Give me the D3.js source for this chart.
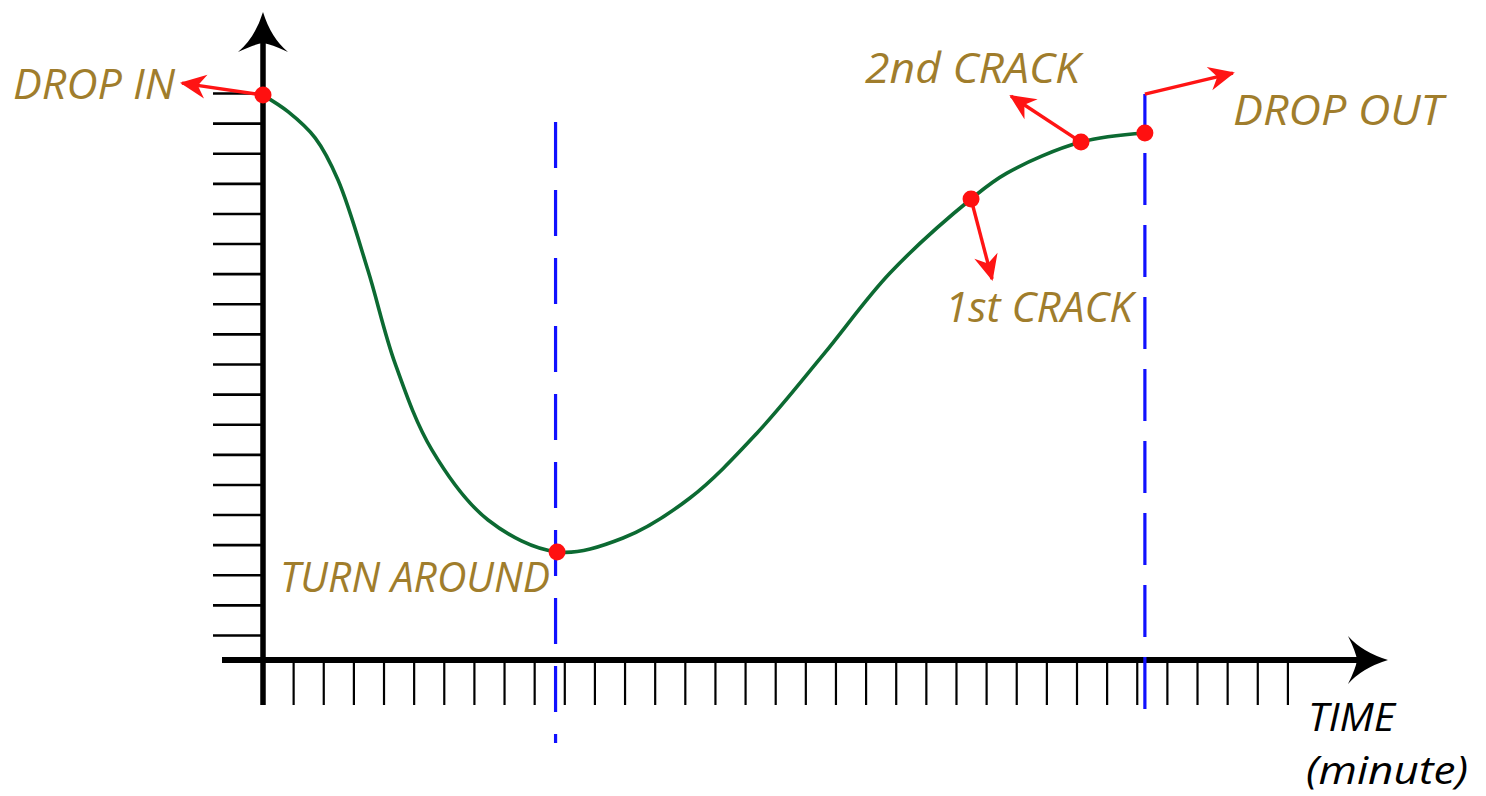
<!DOCTYPE html>
<html>
<head>
<meta charset="utf-8">
<script src="https://cdn.jsdelivr.net/npm/d3@7"></script>
<style>
html,body{margin:0;padding:0;background:#fff;}
svg{display:block;}
text{font-family:"Open Sans","DejaVu Sans",sans-serif;font-style:italic;}
</style>
</head>
<body>
<svg id="chart" width="1486" height="796"></svg>
<script>
// ---- data (time in minutes, temperature in tick units) ----
const timeMin = [0, 0.415, 0.865, 1.245, 1.74, 2.19, 2.805, 3.735, 4.88,
  5.975, 7.085, 8.2, 9.295, 10.405, 11.75, 12.345, 13.575, 14.635];
const temp = [18.93, 18.38, 17.51, 16.11, 13.12, 10.03, 7.14, 4.82, 3.76,
  4.22, 5.55, 7.71, 10.30, 13.02, 15.48, 16.34, 17.37, 17.67];
const eventNames = ["DROP IN", "TURN AROUND", "1st CRACK", "2nd CRACK", "DROP OUT"];
const eventTime = [0, 4.88, 11.75, 13.575, 14.635];
const eventTemp = [18.93, 3.76, 15.48, 17.37, 17.67];
const xTickValues = d3.range(1, 35).map(k => k * 0.5);   // 34 ticks, every 30 s
const yTickValues = d3.range(1, 20);                       // 19 ticks
const axisTitleLines = ["TIME", "(minute)"];

// ---- scales ----
const x = d3.scaleLinear().domain([0, 17]).range([263, 1287.4]);
const y = d3.scaleLinear().domain([1, 19]).range([635, 93]);
const xAxisY = y(0.17);

const svg = d3.select("#chart");
const defs = svg.append("defs");
defs.append("marker").attr("id", "redhead")
  .attr("viewBox", "-26 -13 28 26").attr("refX", 0).attr("refY", 0)
  .attr("markerWidth", 28).attr("markerHeight", 26).attr("markerUnits", "userSpaceOnUse")
  .attr("orient", "auto")
  .append("path").attr("d", "M2,0 L-24,-12 L-16,0 L-24,12 Z").attr("fill", "#ff1414");

// ---- ticks via d3 axes ----
const yAxis = d3.axisLeft(y).tickValues(yTickValues).tickSize(50).tickFormat("");
const gy = svg.append("g").attr("transform", `translate(${x(0)},0)`).call(yAxis);
gy.select(".domain").remove();
gy.selectAll(".tick line").attr("stroke", "#000").attr("stroke-width", 2.6);

const xAxis = d3.axisBottom(x).tickValues(xTickValues).tickSize(45).tickFormat("");
const gx = svg.append("g").attr("transform", `translate(0,${xAxisY})`).call(xAxis);
gx.select(".domain").remove();
gx.selectAll(".tick line").attr("stroke", "#000").attr("stroke-width", 2.2);

// ---- axis lines & arrowheads ----
svg.append("line").attr("x1", x(0)).attr("x2", x(0)).attr("y1", 30).attr("y2", xAxisY + 45)
  .attr("stroke", "#000").attr("stroke-width", 5.5);
svg.append("line").attr("x1", 222).attr("x2", 1365).attr("y1", xAxisY).attr("y2", xAxisY)
  .attr("stroke", "#000").attr("stroke-width", 6);
const ax0 = x(0);
svg.append("path")
  .attr("d", `M${ax0},12 Q${ax0 + 8},38 ${ax0 + 25},52 Q${ax0 + 8},44 ${ax0},43 Q${ax0 - 8},44 ${ax0 - 25},52 Q${ax0 - 8},38 ${ax0},12 Z`)
  .attr("fill", "#000");
svg.append("path")
  .attr("d", `M1388,${xAxisY} Q1362,${xAxisY + 8} 1348,${xAxisY + 24} Q1356,${xAxisY + 8} 1357,${xAxisY} Q1356,${xAxisY - 8} 1348,${xAxisY - 24} Q1362,${xAxisY - 8} 1388,${xAxisY} Z`)
  .attr("fill", "#000");

// ---- blue event lines ----
const blue = "#1010ff";
svg.append("line").attr("x1", x(eventTime[1]) - 1.5).attr("x2", x(eventTime[1]) - 1.5)
  .attr("y1", 122).attr("y2", 743)
  .attr("stroke", blue).attr("stroke-width", 3.2).attr("stroke-dasharray", "46,22");
const xOut = x(eventTime[4]);
svg.append("line").attr("x1", xOut).attr("x2", xOut).attr("y1", 94).attr("y2", y(eventTemp[4]))
  .attr("stroke", blue).attr("stroke-width", 3.2);
svg.append("line").attr("x1", xOut).attr("x2", xOut).attr("y1", 153).attr("y2", 713)
  .attr("stroke", blue).attr("stroke-width", 3.2).attr("stroke-dasharray", "52,20");

// ---- curve ----
const pts = timeMin.map((t, i) => [t, temp[i]]);
svg.append("path").datum(pts)
  .attr("d", d3.line().x(d => x(d[0])).y(d => y(d[1])).curve(d3.curveCatmullRom.alpha(0.5)))
  .attr("fill", "none").attr("stroke", "#0c6a32").attr("stroke-width", 3.6);

// ---- red arrows (layout offsets in px from the event point) ----
const arrowLayout = [
  {from: [0, 0], to: [-81, -12]},
  null,
  {from: [0, 0], to: [21, 80]},
  {from: [0, 0], to: [-70, -46]},
  {from: [0, -39], to: [88, -60]}
];
eventNames.forEach((n, i) => {
  const a = arrowLayout[i];
  if (!a) return;
  const px = x(eventTime[i]), py = y(eventTemp[i]);
  svg.append("line")
    .attr("x1", px + a.from[0]).attr("y1", py + a.from[1])
    .attr("x2", px + a.to[0]).attr("y2", py + a.to[1])
    .attr("stroke", "#ff1414").attr("stroke-width", 3.4)
    .attr("marker-end", "url(#redhead)");
});

// ---- dots ----
svg.selectAll("circle.ev").data(eventTime).join("circle").attr("class", "ev")
  .attr("cx", (d) => x(d)).attr("cy", (d, i) => y(eventTemp[i])).attr("r", 8.5)
  .attr("fill", "#ff1010");

// ---- labels ----
const labelLayout = [
  {x: 13, y: 99, w: 162},
  {x: 280, y: 592, w: 270},
  {x: 945, y: 322, w: 188},
  {x: 865, y: 83, w: 215},
  {x: 1233, y: 125, w: 210}
];
eventNames.forEach((n, i) => {
  const l = labelLayout[i];
  svg.append("text").attr("x", l.x).attr("y", l.y).text(n)
    .attr("font-size", 42).attr("fill", "#a07d2c")
    .attr("textLength", l.w).attr("lengthAdjust", "spacingAndGlyphs");
});
// axis title lines
const titleLayout = [{x: 1308, y: 731, w: 87}, {x: 1306, y: 784, w: 162}];
axisTitleLines.forEach((s, i) => {
  const l = titleLayout[i];
  svg.append("text").attr("x", l.x).attr("y", l.y).text(s)
    .attr("font-size", 38).attr("fill", "#000")
    .attr("textLength", l.w).attr("lengthAdjust", "spacingAndGlyphs");
});
</script>
</body>
</html>
